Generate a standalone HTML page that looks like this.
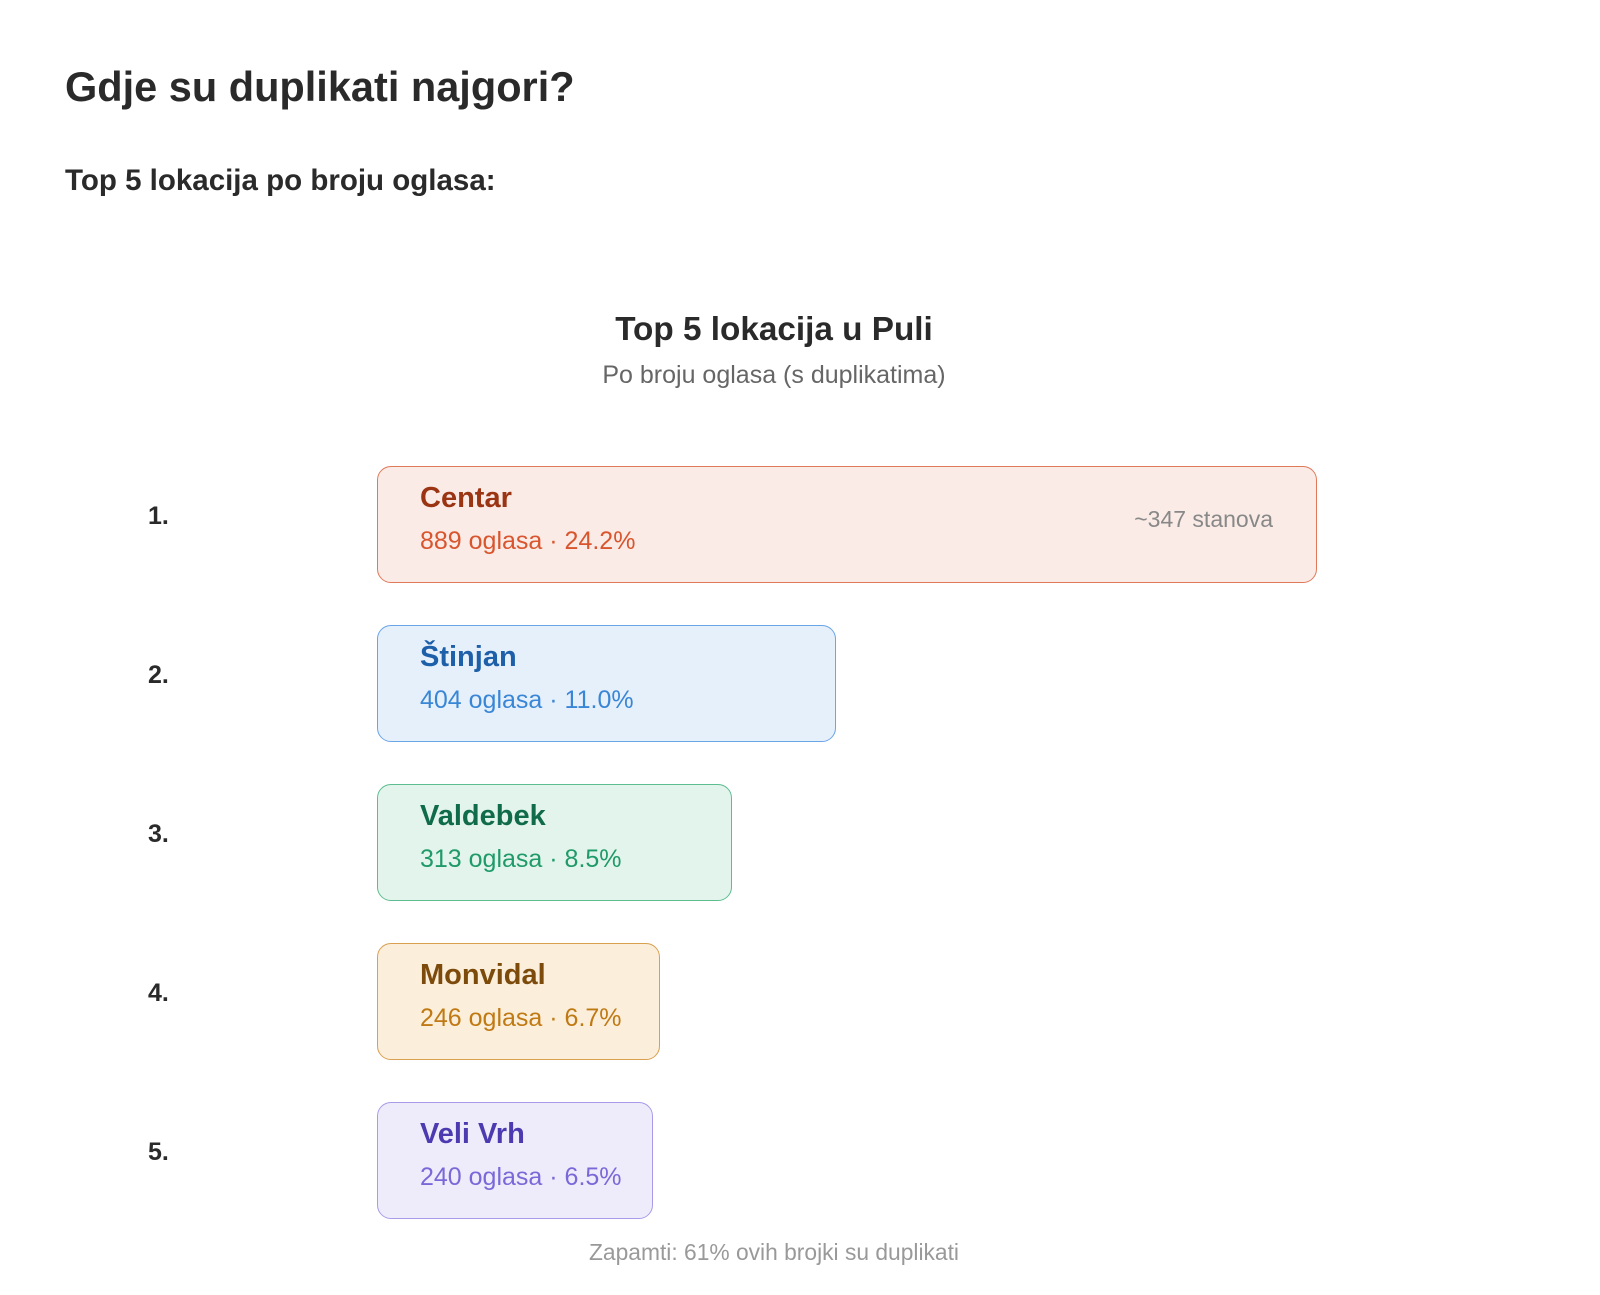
<!DOCTYPE html>
<html><head><meta charset="utf-8"><style>
body{margin:0;width:1600px;height:1295px;background:#fff;font-family:"Liberation Sans",sans-serif;color:#2a2a2a;position:relative;overflow:hidden}
.a{position:absolute;white-space:nowrap}
.box{position:absolute;left:377px;height:115px;border:1px solid;border-radius:14px;box-sizing:content-box}
.n{position:absolute;left:42px;top:15px;font-size:29px;font-weight:bold}
.s{position:absolute;left:42px;top:60px;font-size:25px}
.r{position:absolute;left:148px;font-size:25px;font-weight:bold}
</style></head><body>
<div class="a" style="left:65px;top:63px;font-size:41.5px;font-weight:bold">Gdje su duplikati najgori?</div>
<div class="a" style="left:65px;top:164px;font-size:29.5px;font-weight:bold">Top 5 lokacija po broju oglasa:</div>
<div class="a" style="left:0;width:1548px;text-align:center;top:311px;font-size:33.3px;font-weight:bold">Top 5 lokacija u Puli</div>
<div class="a" style="left:0;width:1548px;text-align:center;top:361px;font-size:25px;color:#666">Po broju oglasa (s duplikatima)</div>

<div class="r" style="top:502px">1.</div>
<div class="box" style="top:466px;width:938px;background:#faebe6;border-color:#e0795a"><div class="n" style="color:#9a3412">Centar</div><div class="s" style="color:#d9552e">889 oglasa · 24.2%</div><div class="a" style="right:43px;top:39px;font-size:23px;color:#888">~347 stanova</div></div>

<div class="r" style="top:661px">2.</div>
<div class="box" style="top:625px;width:457px;background:#e6f0fb;border-color:#6aa5e8"><div class="n" style="color:#1d5fa8">Štinjan</div><div class="s" style="color:#3a86d6">404 oglasa · 11.0%</div></div>

<div class="r" style="top:820px">3.</div>
<div class="box" style="top:784px;width:353px;background:#e2f4ec;border-color:#5cbd90"><div class="n" style="color:#0f6b4a">Valdebek</div><div class="s" style="color:#1f9a68">313 oglasa · 8.5%</div></div>

<div class="r" style="top:979px">4.</div>
<div class="box" style="top:943px;width:281px;background:#fbeedb;border-color:#d9a050"><div class="n" style="color:#7c4a0a">Monvidal</div><div class="s" style="color:#c07a14">246 oglasa · 6.7%</div></div>

<div class="r" style="top:1138px">5.</div>
<div class="box" style="top:1102px;width:274px;background:#eeecfb;border-color:#a99bea"><div class="n" style="color:#4c3bb0">Veli Vrh</div><div class="s" style="color:#7a68d8">240 oglasa · 6.5%</div></div>

<div class="a" style="left:0;width:1548px;text-align:center;top:1239px;font-size:22.8px;color:#999">Zapamti: 61% ovih brojki su duplikati</div>
</body></html>
